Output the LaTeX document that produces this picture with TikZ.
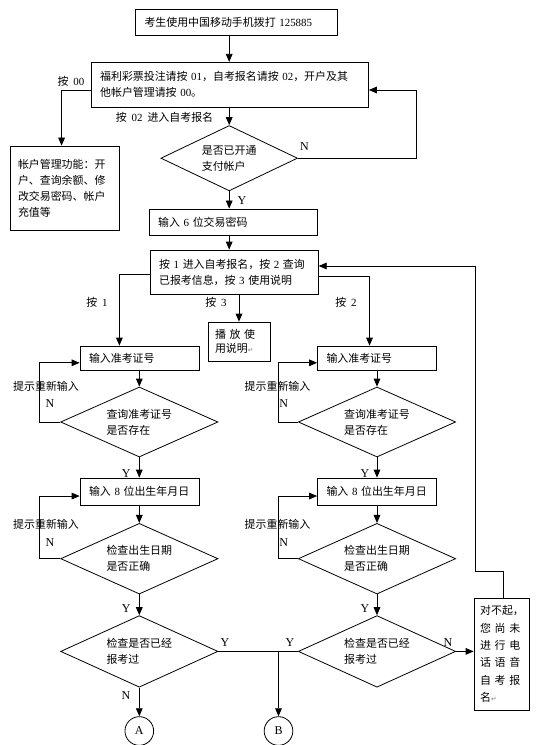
\documentclass[tikz,border=0pt]{standalone}
\usepackage{fontspec}
\usepackage{tikz}
\usetikzlibrary{shapes.geometric,arrows.meta}
\newfontfamily\cjk{Noto Sans CJK SC}[WordSpace=2]
\newfontfamily\lat{Liberation Serif}
\newfontfamily\dv{DejaVu Sans}
\newcommand\dg[1]{{\lat #1}}
\newcommand\pmark{{\dv\fontsize{5}{5}\selectfont\color{gray}↵}}
\tikzset{
  box/.style={draw, rectangle, align=left, inner xsep=6.75pt, inner ysep=0pt},
  dia/.style={draw, diamond, aspect=2, inner sep=0pt, align=left},
  conn/.style={draw, circle, inner sep=0pt, minimum size=21.5pt, font=\lat\fontsize{9}{10}\selectfont},
  lbl/.style={inner sep=0pt},
  yn/.style={inner sep=0pt, font=\lat\fontsize{9}{10}\selectfont},
  arr/.style={-{Triangle[length=6pt,width=5pt]}}
}

\begin{document}
\begin{tikzpicture}[x=0.75pt, y=-0.75pt, line width=0.6pt, font=\cjk\fontsize{8.2}{12}\selectfont]
\useasboundingbox (0,0) rectangle (540,745);

% top part
\node[box, text width=138pt, minimum height=19.5pt] (start) at (236.5,22.7) {考生使用中国移动手机拨打 \dg{125885}};
\node[box, text width=194.5pt, minimum height=33.75pt] (menu) at (229.8,84.8) {福利彩票投注请按 \dg{01}，自考报名请按 \dg{02}，开户及其\\他帐户管理请按 \dg{00}。};
\node[box, inner xsep=6pt, text width=69.75pt, minimum height=63pt] (acct) at (64.5,188) {帐户管理功能：开\\户、查询余额、修\\改交易密码、帐户\\充值等};
\node[dia, minimum width=102.5pt, minimum height=49pt] (open) at (229.2,158.2) {是否已开通\\支付帐户};
\node[box, inner xsep=6.4pt, text width=113pt, minimum height=19.5pt] (pwd) at (233.5,222) {输入 \dg{6} 位交易密码};
\node[box, inner xsep=6.4pt, text width=113pt, minimum height=33pt] (sub) at (234.4,272) {按 \dg{1} 进入自考报名，按 \dg{2} 查询\\已报考信息，按 \dg{3} 使用说明};
\node[box, inner xsep=5.25pt, text width=36pt, minimum height=29.25pt, font=\cjk\fontsize{8.2}{10.5}\selectfont] (play) at (239,341.5) {\makebox[33pt][s]{播 放 使}\\用说明\pmark};

% left column
\node[box, text width=75.75pt, minimum height=18pt] (idL) at (139.5,358) {输入准考证号};
\node[dia, minimum width=118pt, minimum height=52.5pt] (chkL) at (139.3,422) {查询准考证号\\是否存在};
\node[box, text width=75.75pt, minimum height=20.25pt] (birthL) at (139.5,491.5) {输入 \dg{8} 位出生年月日};
\node[dia, minimum width=118pt, minimum height=53pt] (dateL) at (139.3,558.7) {检查出生日期\\是否正确};
\node[dia, minimum width=118pt, minimum height=53.7pt] (doneL) at (139.3,651.4) {检查是否已经\\报考过};
\node[conn] (A) at (139.3,731) {A};

% right column
\node[box, text width=75.75pt, minimum height=18pt] (idR) at (377,358) {输入准考证号};
\node[dia, minimum width=118pt, minimum height=52.5pt] (chkR) at (377,422) {查询准考证号\\是否存在};
\node[box, text width=75.75pt, minimum height=20.25pt] (birthR) at (377,491.5) {输入 \dg{8} 位出生年月日};
\node[dia, minimum width=118pt, minimum height=53pt] (dateR) at (377,558.7) {检查出生日期\\是否正确};
\node[dia, minimum width=118pt, minimum height=53.7pt] (doneR) at (377,651.4) {检查是否已经\\报考过};
\node[conn] (B) at (278.5,731) {B};
\node[box, inner xsep=0pt, text width=32pt, minimum width=41.25pt, minimum height=84pt, font=\cjk\fontsize{8.2}{13}\selectfont] (sorry) at (501.5,654) {对不起，\\\makebox[32pt][s]{您 尚 未}\\\makebox[32pt][s]{进 行 电}\\\makebox[32pt][s]{话 语 音}\\\makebox[32pt][s]{自 考 报}\\名\pmark};

% labels
\node[lbl] (k00) at (71,81) {按 \dg{00}};
\node[lbl] (k02) at (164.5,117.6) {按 \dg{02} 进入自考报名};
\node[yn] (nOpen) at (304.5,147) {N};
\node[yn] (yOpen) at (242,201) {Y};
\node[lbl] (k1) at (97,302) {按 \dg{1}};
\node[lbl] (k3) at (216,302) {按 \dg{3}};
\node[lbl] (k2) at (346,302) {按 \dg{2}};
\node[lbl] (hintL1) at (46,386) {提示重新输入};
\node[yn] (nL1) at (50,404) {N};
\node[yn] (yL1) at (126.3,474) {Y};
\node[lbl] (hintL2) at (46,524.3) {提示重新输入};
\node[yn] (nL2) at (50,542.3) {N};
\node[yn] (yL2) at (126.3,609) {Y};
\node[yn] (nL3) at (126,696) {N};
\node[yn] (yL3) at (225,643) {Y};
\node[lbl] (hintR1) at (277.5,386) {提示重新输入};
\node[yn] (nR1) at (283.7,404) {N};
\node[yn] (yR1) at (365,474) {Y};
\node[lbl] (hintR2) at (277.5,524.3) {提示重新输入};
\node[yn] (nR2) at (283.7,542.3) {N};
\node[yn] (yR2) at (365,609) {Y};
\node[yn] (yR3) at (290,643) {Y};
\node[yn] (nR3) at (448,643) {N};

% connectors
\draw[arr] (start.south -| open.north) -- (menu.north -| open.north);
\draw[arr] ([yshift=-3.9pt]menu.west) -| ([xshift=-2.2pt]acct.north);
\draw[arr] (menu.south -| open.north) -- (open.north);
\draw[arr] (open.east) -- ++(118.4,0) |- ([yshift=-3.9pt]menu.east);
\draw[arr] (open.south) -- (pwd.north -| open.south);
\draw[arr] (pwd.south -| open.south) -- (sub.north -| open.south);
\draw[arr] ([yshift=-2pt]sub.west) -| ([xshift=-15.1pt]idL.north);
\draw[arr] (sub.south -| play.north) -- (play.north);
\draw[arr] ([yshift=-3.2pt]sub.east) -| ([xshift=-5.6pt]idR.north);

\draw[arr] (idL.south -| chkL.north) -- (chkL.north);
\draw[arr] (chkL.west) -- ++(-20.7,0) |- ([yshift=-3.6pt]idL.west);
\draw[arr] (chkL.south) -- (birthL.north -| chkL.south);
\draw[arr] (birthL.south -| dateL.north) -- (dateL.north);
\draw[arr] (dateL.west) -- ++(-20.7,0) |- ([yshift=-3.4pt]birthL.west);
\draw[arr] (dateL.south) -- (doneL.north);
\draw[arr] (doneL.south) -- (A.north);

\draw[arr] (idR.south -| chkR.north) -- (chkR.north);
\draw[arr] (chkR.west) -- ++(-19.8,0) |- ([yshift=-3.6pt]idR.west);
\draw[arr] (chkR.south) -- (birthR.north -| chkR.south);
\draw[arr] (birthR.south -| dateR.north) -- (dateR.north);
\draw[arr] (dateR.west) -- ++(-19.8,0) |- ([yshift=-3.4pt]birthR.west);
\draw[arr] (dateR.south) -- (doneR.north);

\draw (doneL.east) -- (doneR.west);
\draw[arr] (B.north |- doneL.east) -- (B.north);
\draw[arr] (doneR.east) -- (doneR.east -| sorry.west);
\draw[arr] ([xshift=1.1pt]sorry.north) -- ++(0,-26) -- ++(-28,0) |- ([yshift=4.5pt]sub.east);
\end{tikzpicture}
\end{document}
